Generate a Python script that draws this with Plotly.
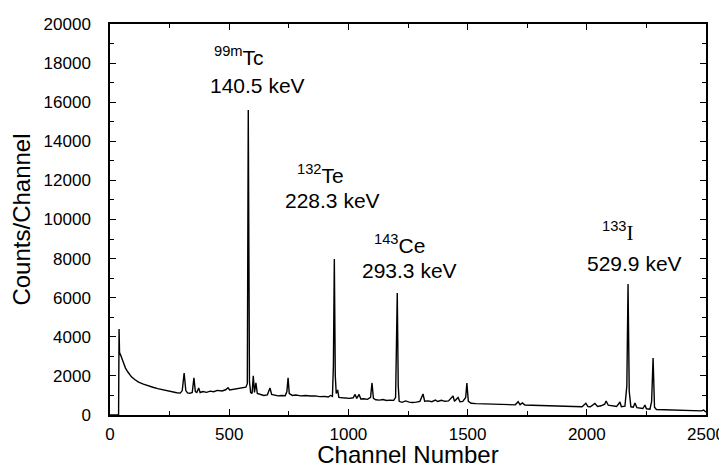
import plotly.graph_objects as go

# Spectrum: channel number and counts per channel
channels = [0, 36, 38, 40, 45, 55, 65, 75, 90, 105, 120, 140, 160, 180, 200, 220, 240, 260, 280, 295,
            303, 311, 318, 325, 335, 345, 352, 358, 364, 372, 378, 390, 405, 420, 435, 450, 470, 485, 495, 502,
            515, 530, 545, 560, 570, 576, 580, 585, 590, 596, 601, 606, 612, 618, 630, 645, 660, 671, 678, 690,
            705, 720, 735, 742, 747, 752, 765, 780, 800, 820, 840, 860, 880, 900, 915, 925, 933, 937, 941, 945,
            949, 955, 960, 975, 990, 1005, 1020, 1028, 1035, 1045, 1052, 1065, 1080, 1093, 1099, 1105, 1115, 1130, 1145, 1160,
            1175, 1190, 1198, 1201, 1205, 1209, 1213, 1225, 1240, 1255, 1270, 1285, 1300, 1313, 1320, 1335, 1350, 1365, 1375, 1390,
            1405, 1420, 1439, 1445, 1460, 1468, 1480, 1492, 1497, 1503, 1515, 1535, 1560, 1590, 1620, 1650, 1680, 1700, 1712, 1720,
            1730, 1740, 1770, 1800, 1830, 1860, 1890, 1920, 1950, 1980, 1996, 2005, 2015, 2034, 2045, 2060, 2075, 2081, 2090, 2110,
            2125, 2133, 2139, 2145, 2160, 2168, 2173, 2178, 2185, 2195, 2202, 2210, 2225, 2235, 2244, 2250, 2265, 2272, 2278, 2284,
            2292, 2310, 2340, 2370, 2400, 2430, 2460, 2480, 2490, 2495, 2500]
counts = [0, 0, 4400, 3200, 3050, 2700, 2400, 2200, 1950, 1800, 1680, 1580, 1480, 1420, 1350, 1290, 1230, 1180, 1140, 1120,
          1250, 2150, 1250, 1130, 1110, 1150, 1900, 1200, 1150, 1380, 1150, 1200, 1160, 1220, 1190, 1260, 1230, 1290, 1390, 1280,
          1300, 1330, 1360, 1390, 1420, 1600, 15600, 1700, 1150, 1100, 2000, 1150, 1640, 1100, 1050, 1000, 1030, 1380, 1050, 1020,
          980, 1000, 990, 1200, 1900, 1100, 1000, 1020, 980, 1000, 970, 980, 940, 950, 920, 1000, 950, 2500, 7980, 2000,
          1100, 1280, 900, 880, 860, 850, 880, 1050, 850, 1050, 820, 830, 800, 900, 1640, 850, 780, 760, 790, 740,
          760, 750, 900, 3000, 6240, 1500, 700, 650, 720, 660, 640, 660, 700, 1075, 700, 720, 680, 760, 690, 750,
          700, 720, 970, 700, 900, 680, 700, 900, 1640, 700, 600, 580, 570, 560, 550, 540, 545, 520, 680, 530,
          620, 510, 500, 490, 500, 470, 480, 460, 450, 420, 600, 430, 420, 590, 440, 470, 550, 716, 500, 460,
          440, 560, 665, 420, 450, 1500, 6700, 1200, 420, 400, 614, 380, 360, 330, 510, 320, 300, 700, 2915, 400,
          280, 270, 260, 250, 240, 230, 220, 210, 250, 180, 150]

# Peak labels
label_text = ["<sup>99m</sup>Tc", "140.5 keV", "<sup>132</sup>Te", "228.3 keV",
              "<sup>143</sup>Ce", "293.3 keV",
              "<sup>133</sup><span style='font-family:Liberation Serif'>I</span>", "529.9 keV"]
label_x = [543, 619, 883, 935, 1214, 1256, 2131, 2200]
label_y = [18338, 16829, 12327, 10997, 8747, 7366, 9361, 7775]

x_ticks = [0, 500, 1000, 1500, 2000, 2500]
y_ticks = [0, 2000, 4000, 6000, 8000, 10000, 12000, 14000, 16000, 18000, 20000]

FONT = "Liberation Sans, Arial, sans-serif"

fig = go.Figure()
fig.add_trace(go.Scatter(x=channels, y=counts, mode="lines",
                         line=dict(color="black", width=1.4), showlegend=False))

for t, x, y in zip(label_text, label_x, label_y):
    fig.add_annotation(x=x, y=y, text=t, showarrow=False, xanchor="center", yanchor="middle",
                       font=dict(family=FONT, size=21, color="black"))

axis_common = dict(showgrid=False, zeroline=False, showline=True, linecolor="black", linewidth=1.5,
                   mirror="ticks", ticks="inside", ticklen=6, tickwidth=1, tickcolor="black",
                   tickfont=dict(family=FONT, size=17, color="black"))

fig.update_xaxes(range=[0, 2500], tickvals=x_ticks, ticktext=[str(v) for v in x_ticks],
                 minor=dict(ticks="inside", ticklen=4, tickwidth=1, tickcolor="black", dtick=250, tick0=0),
                 title=dict(text="Channel Number", font=dict(family=FONT, size=24, color="black"), standoff=2),
                 ticklabelstandoff=3,
                 **axis_common)
fig.update_yaxes(range=[0, 20000], tickvals=y_ticks, ticktext=[str(v) for v in y_ticks],
                 minor=dict(ticks="inside", ticklen=4, tickwidth=1, tickcolor="black", dtick=1000, tick0=0),
                 title=dict(text="Counts/Channel", font=dict(family=FONT, size=24, color="black"), standoff=8),
                 ticklabelstandoff=14,
                 **axis_common)

# the page body has an 8px margin, so the figure is shifted by 8px; compensate
fig.update_layout(width=719, height=460, margin=dict(l=102, r=21, t=16, b=53, autoexpand=False),
                  plot_bgcolor="white", paper_bgcolor="white")

fig.write_html("out.html")
